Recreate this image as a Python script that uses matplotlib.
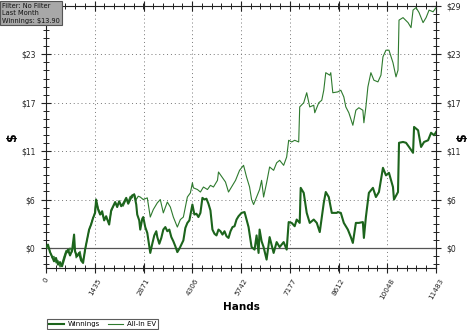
import matplotlib
matplotlib.use("Agg")
import matplotlib.pyplot as plt
from matplotlib.ticker import FixedLocator, MultipleLocator, AutoMinorLocator
from matplotlib.lines import Line2D

# ---- data ----
win_hands = [0, 59, 118, 177, 236, 295, 354, 413, 472, 531, 590, 649, 708, 768, 827, 856, 915, 974,
             1033, 1092, 1151, 1210, 1269, 1328, 1387, 1446, 1476, 1535, 1594, 1653, 1712, 1771, 1860,
             1919, 1978, 2037, 2096, 2155, 2214, 2273, 2362, 2421, 2480, 2539, 2598, 2657, 2686, 2745,
             2775, 2834, 2863, 2922, 2982, 3070, 3129, 3188, 3247, 3277, 3336, 3395, 3454, 3513, 3572,
             3631, 3690, 3749, 3808, 3867, 3926, 3985, 4044, 4103, 4162, 4221, 4310, 4369, 4428, 4487,
             4546, 4605, 4664, 4723, 4782, 4841, 4900, 4960, 5019, 5078, 5136, 5196, 5255, 5314, 5373,
             5432, 5491, 5550, 5609, 5668, 5757, 5845, 5904, 5963, 6052, 6140, 6199, 6258, 6288, 6347,
             6406, 6494, 6583, 6701, 6790, 6878, 6996, 7085, 7144, 7232, 7321, 7380, 7469, 7498, 7587,
             7675, 7764, 7882, 7971, 8059, 8177, 8236, 8324, 8413, 8561, 8590, 8679, 8767, 8886, 8974,
             9033, 9122, 9210, 9328, 9358, 9417, 9505, 9624, 9712, 9801, 9919, 10008, 10096, 10214,
             10244, 10362, 10392, 10510, 10599, 10687, 10805, 10835, 10953, 11041, 11130, 11248, 11336,
             11425, 11483]
win_vals = [0.0, 0.4, -0.5, -1.0, -1.6, -1.2, -2.0, -1.7, -2.2, -1.4, -0.6, -0.2, -0.9, -0.3, 1.6, -0.4,
            -1.0, -0.6, -1.5, -1.8, -0.2, 1.0, 2.2, 2.8, 3.6, 4.2, 5.8, 4.6, 4.0, 4.4, 3.3, 3.8, 2.8,
            4.5, 5.0, 5.5, 4.9, 5.6, 5.0, 5.3, 6.0, 5.3, 5.8, 6.3, 6.4, 5.2, 4.0, 3.3,
            2.2, 3.5, 3.7, 2.5, 1.8, -0.6, 0.5, 1.5, 2.0, 1.3, 0.5, 1.2, 2.2, 2.5, 2.0,
            2.2, 1.3, 0.8, 0.2, -0.5, -0.1, 0.4, 0.9, 2.4, 3.0, 3.3, 5.2, 4.0, 4.1, 3.7,
            4.2, 6.0, 5.8, 5.9, 5.3, 4.5, 2.2, 1.7, 1.5, 2.2, 2.0, 1.6, 2.0, 1.4, 1.2,
            2.0, 2.5, 2.6, 3.4, 3.8, 4.2, 4.3, 3.4, 2.5, 0.1, -0.2, 1.5, -0.6, 2.2, 0.8,
            0.1, -1.4, 1.3, -0.6, 0.7, 0.1, 0.7, -0.2, 3.1, 3.0, 2.6, 3.4, 3.0, 7.2, 6.6,
            4.2, 3.0, 3.4, 3.0, 1.9, 5.4, 6.7, 6.1, 4.2, 4.2, 4.3, 4.2, 3.0, 2.2, 1.3,
            0.6, 3.0, 3.0, 3.1, 1.2, 3.7, 6.6, 7.2, 6.1, 6.7, 9.6, 8.7, 9.0, 7.3,
            5.8, 6.7, 12.6, 12.7, 12.6, 12.1, 11.4, 14.5, 14.1, 12.1, 12.7, 12.9, 13.8,
            13.5, 13.9]

ev_hands = [0, 59, 118, 177, 236, 295, 354, 413, 472, 531, 590, 649, 708, 768, 827, 886, 945, 1004,
            1063, 1122, 1181, 1240, 1299, 1358, 1417, 1476, 1535, 1594, 1653, 1712, 1771, 1860, 1919,
            1978, 2037, 2096, 2155, 2214, 2273, 2362, 2421, 2480, 2539, 2598, 2657, 2716, 2775, 2863,
            2982, 3070, 3159, 3277, 3365, 3454, 3572, 3661, 3749, 3867, 3956, 4044, 4162, 4251, 4310,
            4340, 4458, 4546, 4635, 4753, 4841, 4930, 5048, 5078, 5196, 5284, 5373, 5491, 5580, 5698,
            5816, 5904, 5993, 6052, 6111, 6199, 6288, 6347, 6406, 6494, 6583, 6701, 6790, 6878, 6996,
            7085, 7144, 7232, 7321, 7439, 7469, 7587, 7675, 7764, 7882, 7912, 8030, 8118, 8177, 8236,
            8354, 8383, 8443, 8590, 8679, 8767, 8826, 8915, 9033, 9122, 9210, 9328, 9358, 9417, 9476,
            9564, 9653, 9771, 9860, 9919, 10008, 10096, 10214, 10303, 10362, 10392, 10510, 10658,
            10746, 10805, 10894, 10982, 11100, 11189, 11277, 11395, 11483]
ev_vals = [0.0, 0.3, -0.4, -1.2, -1.0, -1.8, -1.5, -2.3, -1.8, -1.0, -0.3, -0.6, 0.0, -0.5, 0.3, -1.2,
           -0.8, -0.4, -1.6, -1.0, 0.4, 1.6, 2.5, 3.3, 3.9, 5.6, 4.8, 4.2, 4.0, 3.5, 3.6, 3.0, 4.3,
           4.9, 5.4, 5.1, 5.5, 5.2, 5.0, 5.8, 5.6, 6.2, 6.0, 6.5, 5.8, 6.2, 6.1, 5.8,
           6.0, 3.7, 4.6, 5.4, 5.8, 4.2, 5.5, 4.9, 3.7, 2.5, 3.4, 3.7, 6.1, 6.6, 7.8,
           7.2, 7.0, 6.7, 7.3, 7.0, 7.5, 7.3, 8.1, 9.1, 8.4, 7.9, 6.7, 7.5, 8.1, 9.3,
           9.9, 8.5, 7.3, 5.8, 5.2, 6.1, 7.0, 8.1, 6.1, 7.8, 9.7, 9.3, 10.2, 10.5, 9.9,
           10.9, 12.9, 12.7, 12.9, 12.7, 16.9, 17.4, 18.6, 16.9, 17.1, 16.2, 17.4, 17.7, 18.9, 21.0,
           20.7, 21.0, 18.6, 18.7, 18.9, 18.1, 16.9, 16.2, 14.7, 16.5, 16.8, 16.5, 15.0, 16.9, 19.3,
           21.0, 20.1, 19.9, 20.7, 22.9, 23.7, 23.7, 22.2, 20.5, 21.3, 27.3, 27.6, 27.0,
           26.4, 28.5, 28.8, 28.2, 27.0, 27.6, 28.5, 28.3, 28.8]

x_ticks = [0, 1435, 2871, 4306, 5742, 7177, 8612, 10048, 11483]
y_ticks = [0.0, 5.8, 11.6, 17.4, 23.2, 29.0]
y_tick_labels = ["$0", "$6", "$11", "$17", "$23", "$29"]
info_lines = ["Filter: No Filter", "Last Month", "Winnings: $13.90"]

# ---- figure ----
plt.rcParams['font.family'] = ['DejaVu Sans']
fig = plt.figure(figsize=(4.74, 3.30), dpi=100)
ax = fig.add_axes([0.097, 0.188, 0.823, 0.794])

win_color = '#1c641c'
ev_color = '#2e7a2e'
ax.plot(ev_hands, ev_vals, color=ev_color, lw=0.8, zorder=3)
ax.plot(win_hands, win_vals, color=win_color, lw=1.5, zorder=4)

ax.axhline(0, color='#555555', lw=0.9, zorder=2)

ax.set_xlim(0, 11483)
ax.set_ylim(-2.4, 29.0)
ax.xaxis.set_major_locator(FixedLocator(x_ticks))
ax.xaxis.set_minor_locator(AutoMinorLocator(5))
ax.yaxis.set_major_locator(FixedLocator(y_ticks))
ax.yaxis.set_minor_locator(MultipleLocator(5.8 / 6))
ax.set_yticklabels(y_tick_labels)
ax.set_xticklabels([str(t) for t in x_ticks], rotation=60, ha='center', va='top')

ax.grid(True, which='major', linestyle=(0, (1, 3)), color='#777777', lw=0.7)

ax.tick_params(which='both', direction='inout', top=True, right=True,
               labelright=True, colors='#222222', labelsize=5.5)
ax.tick_params(which='major', length=7, width=0.8, pad=4)
ax.tick_params(which='minor', length=5, width=0.7)
ax.tick_params(axis='x', which='major', pad=3, labelsize=5.2)

# the info box covers the top-left tick label
ax.yaxis.get_major_ticks()[-1].label1.set_visible(False)

for s in ax.spines.values():
    s.set_color('#222222')
    s.set_linewidth(0.8)

ax.set_xlabel("Hands", fontsize=7.5, fontweight='bold', labelpad=1.5)
fig.text(12 / 474, 1 - 137 / 330, "$", fontsize=9, fontweight='bold', rotation=90,
         ha='center', va='center')
fig.text(462 / 474, 1 - 137 / 330, "$", fontsize=9, fontweight='bold', rotation=90,
         ha='center', va='center')

# info box
fig.text(2 / 474, 1 - 2.5 / 330, "\n".join(info_lines), fontsize=4.8, color='#111111',
         ha='left', va='top', linespacing=1.3,
         bbox=dict(boxstyle='square,pad=0.25', facecolor='#a8a8a8', edgecolor='#555555', lw=0.8))

# legend
handles = [Line2D([], [], color=win_color, lw=1.5), Line2D([], [], color=ev_color, lw=0.8)]
leg = fig.legend(handles, ["Winnings", "All-In EV"], loc='lower left',
                 bbox_to_anchor=(46 / 474, 0.0), ncol=2, fontsize=5.0, frameon=True,
                 fancybox=False, edgecolor='#333333', handlelength=2.2, columnspacing=1.2,
                 borderpad=0.25, handletextpad=0.5, borderaxespad=0.15)
leg.get_frame().set_linewidth(0.8)

fig.savefig("out.png", dpi=100)
